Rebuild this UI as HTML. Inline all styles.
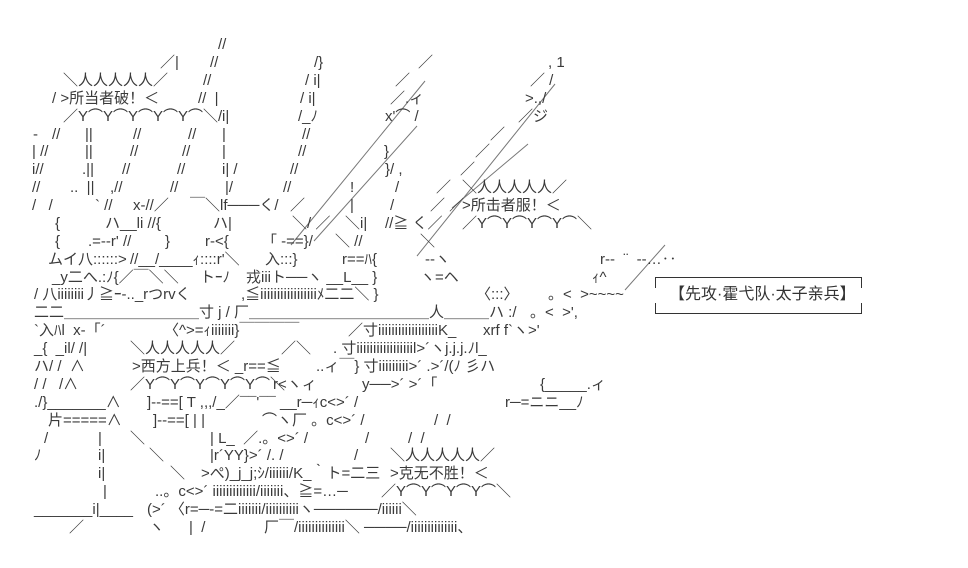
<!DOCTYPE html>
<html><head><meta charset="utf-8">
<style>
html,body{margin:0;padding:0;background:#fff;}
#c{position:relative;width:968px;height:568px;overflow:hidden;background:#fff;
font-family:"Liberation Sans","Noto Sans CJK SC",sans-serif;font-size:15px;line-height:18px;color:#3a3a3a;}
#c span{position:absolute;white-space:pre;}
svg{position:absolute;left:0;top:0;}
.box{position:absolute;left:655px;top:277px;width:207px;height:35px;border-top:1px solid #333;border-bottom:1px solid #333;}
.box:before,.box:after{content:"";position:absolute;top:0;width:0;height:10px;border-left:1px solid #333;}
.box:before{left:0}.box:after{right:0}
.bl,.br{position:absolute;bottom:0;height:10px;border-left:1px solid #333;}
.bl{left:0}.br{right:0}
.box b{position:absolute;left:14px;top:8px;font-weight:normal;font-size:16px;color:#333;white-space:pre;}
</style></head><body><div id="c">
<svg width="968" height="568">
<g stroke="#777" stroke-width="1" fill="none">
<line x1="425" y1="81" x2="291" y2="245"/>
<line x1="417" y1="126" x2="314" y2="241"/>
<line x1="555" y1="84" x2="417" y2="256"/>
<line x1="528" y1="144" x2="452" y2="208"/>
<line x1="665" y1="245" x2="625" y2="290"/>
</g></svg>

<span style="left:218px;top:36px">//</span>

<span style="left:160px;top:54px">／|</span><span style="left:210px;top:54px">//</span><span style="left:314px;top:54px">/}</span><span style="left:418px;top:54px">／</span><span style="left:548px;top:54px">, 1</span>

<span style="left:63px;top:72px">＼人人人人人／</span><span style="left:203px;top:72px">//</span><span style="left:305px;top:72px">/ i|</span><span style="left:395px;top:72px">／</span><span style="left:530px;top:72px">／ /</span>

<span style="left:52px;top:90px">/ &gt;所当者破！＜</span><span style="left:198px;top:90px">//  |</span><span style="left:300px;top:90px">/ i|</span><span style="left:390px;top:90px">／.ィ</span><span style="left:525px;top:90px">&gt;.,/</span>

<span style="left:63px;top:108px">／Y⌒Y⌒Y⌒Y⌒Y⌒＼/</span><span style="left:222px;top:108px">i|</span><span style="left:298px;top:108px">/_ﾉ</span><span style="left:385px;top:108px">x'⌒ /</span><span style="left:518px;top:108px">／ジ</span>

<span style="left:33px;top:126px">-</span><span style="left:52px;top:126px">//</span><span style="left:85px;top:126px">||</span><span style="left:133px;top:126px">//</span><span style="left:188px;top:126px">//</span><span style="left:222px;top:126px">|</span><span style="left:302px;top:126px">//</span><span style="left:490px;top:126px">／</span>

<span style="left:32px;top:143px">| //</span><span style="left:85px;top:143px">||</span><span style="left:130px;top:143px">//</span><span style="left:182px;top:143px">//</span><span style="left:222px;top:143px">|</span><span style="left:298px;top:143px">//</span><span style="left:384px;top:143px">}</span><span style="left:475px;top:143px">／</span>

<span style="left:32px;top:161px">i//</span><span style="left:82px;top:161px">.||</span><span style="left:122px;top:161px">//</span><span style="left:177px;top:161px">//</span><span style="left:222px;top:161px">i| /</span><span style="left:290px;top:161px">//</span><span style="left:385px;top:161px">}/ ,</span><span style="left:460px;top:161px">／</span>

<span style="left:32px;top:179px">//</span><span style="left:70px;top:179px">..  ||</span><span style="left:110px;top:179px">,//</span><span style="left:170px;top:179px">//</span><span style="left:225px;top:179px">|/</span><span style="left:283px;top:179px">//</span><span style="left:350px;top:179px">!</span><span style="left:395px;top:179px">/</span><span style="left:436px;top:179px">／</span><span style="left:462px;top:179px">＼人人人人人／</span>

<span style="left:32px;top:197px">/   /</span><span style="left:95px;top:197px">` //</span><span style="left:133px;top:197px">x-//／</span><span style="left:190px;top:197px">￣＼lf───く/</span><span style="left:290px;top:197px">／</span><span style="left:350px;top:197px">|</span><span style="left:390px;top:197px">/</span><span style="left:430px;top:197px">／ ／</span><span style="left:462px;top:197px">&gt;所击者服！＜</span>

<span style="left:55px;top:215px">{</span><span style="left:105px;top:215px">ハ__li //{</span><span style="left:213px;top:215px">ハ|</span><span style="left:292px;top:215px">＼/ ／</span><span style="left:345px;top:215px">＼i|</span><span style="left:385px;top:215px">//≧ く／</span><span style="left:462px;top:215px">／Y⌒Y⌒Y⌒Y⌒＼</span>

<span style="left:55px;top:233px">{</span><span style="left:88px;top:233px">.=--r' //</span><span style="left:165px;top:233px">}</span><span style="left:205px;top:233px">r-&lt;{</span><span style="left:262px;top:233px">「 -==}/</span><span style="left:335px;top:233px">＼ //</span><span style="left:420px;top:233px">＼</span>

<span style="left:48px;top:251px">ムイ八::::::&gt;</span><span style="left:130px;top:251px">//__/____ｨ::::r'＼</span><span style="left:265px;top:251px">入:::}</span><span style="left:342px;top:251px">r==ﾊ{</span><span style="left:425px;top:251px">--ヽ</span><span style="left:600px;top:251px">r--  ¨  --…‥</span>

<span style="left:52px;top:269px">_y二へ.:ﾉ{／￣＼＼</span><span style="left:200px;top:269px">トｰﾉ</span><span style="left:246px;top:269px">戎iiiト──ヽ __L__ }</span><span style="left:420px;top:269px">ヽ=ヘ</span><span style="left:592px;top:269px">ｨ^</span>

<span style="left:34px;top:286px">/ 八iiiiiiii丿≧ｰ-.._rつrvく</span><span style="left:241px;top:286px">,≦iiiiiiiiiiiiiiiiiﾒ二二＼ }</span><span style="left:476px;top:286px">〈:::〉</span><span style="left:548px;top:286px">。&lt;  &gt;~~~~</span>

<span style="left:34px;top:304px">二二＿＿＿＿＿＿＿＿＿寸 j / 厂＿＿＿＿＿＿＿＿＿＿＿＿人＿＿＿ハ :/</span><span style="left:530px;top:304px">。&lt;  &gt;',</span>

<span style="left:34px;top:322px">`入ﾊl  x-「´</span><span style="left:164px;top:322px">〈^&gt;=ｨiiiiiii}￣￣￣￣</span><span style="left:348px;top:322px">／寸iiiiiiiiiiiiiiiiiiK_</span><span style="left:483px;top:322px">xrf f`ヽ&gt;'</span>

<span style="left:34px;top:340px">_{  _il/ /|</span><span style="left:130px;top:340px">＼人人人人人／</span><span style="left:281px;top:340px">／＼</span><span style="left:333px;top:340px">. 寸iiiiiiiiiiiiiiiiil&gt;´ヽj.j.j.ﾉl_</span>

<span style="left:34px;top:358px">ハ/ /  ∧</span><span style="left:132px;top:358px">&gt;西方上兵！＜ _r==≦</span><span style="left:316px;top:358px">..ィ￣} 寸iiiiiiiii&gt;´ .&gt;´/(ﾉ 彡ハ</span>

<span style="left:34px;top:376px">/ /   /∧</span><span style="left:130px;top:376px">／Y⌒Y⌒Y⌒Y⌒Y⌒＼</span><span style="left:273px;top:376px">r&lt;ヽィ</span><span style="left:362px;top:376px">y──&gt;´ &gt;´「</span><span style="left:540px;top:376px">{_____.ィ</span>

<span style="left:34px;top:394px">./}_______∧</span><span style="left:147px;top:394px">]--==[ T ,,,/_／¯¯'¯¯ __r─ｨc&lt;&gt;´ /</span><span style="left:505px;top:394px">r─=ニニ__ﾉ</span>

<span style="left:48px;top:412px">片=====∧</span><span style="left:153px;top:412px">]--==[ | |</span><span style="left:262px;top:412px">⌒ヽ厂 。c&lt;&gt;´ /</span><span style="left:434px;top:412px">/  /</span>

<span style="left:44px;top:430px">/</span><span style="left:98px;top:430px">|</span><span style="left:130px;top:430px">＼</span><span style="left:210px;top:430px">| L_  ／.。&lt;&gt;´ /</span><span style="left:365px;top:430px">/</span><span style="left:408px;top:430px">/  /</span>

<span style="left:34px;top:447px">ﾉ</span><span style="left:98px;top:447px">i|</span><span style="left:149px;top:447px">＼</span><span style="left:210px;top:447px">|r´YY}&gt;´ /. /</span><span style="left:354px;top:447px">/</span><span style="left:390px;top:447px">＼人人人人人／</span>

<span style="left:98px;top:465px">i|</span><span style="left:170px;top:465px">＼</span><span style="left:201px;top:465px">&gt;ぺ)_j_j;ｼ/iiiiii/K_｀ト=二三</span><span style="left:390px;top:465px">&gt;克无不胜！＜</span>

<span style="left:103px;top:483px">|</span><span style="left:155px;top:483px">..。c&lt;&gt;´ iiiiiiiiiiiii/iiiiiii、≧=…─</span><span style="left:381px;top:483px">／Y⌒Y⌒Y⌒Y⌒＼</span>

<span style="left:34px;top:501px">_______i|____</span><span style="left:147px;top:501px">(&gt;´ 〈r=─-=二iiiiiii/iiiiiiiiiiヽ──────/iiiiii＼</span>

<span style="left:69px;top:519px">／</span><span style="left:149px;top:519px">ヽ</span><span style="left:189px;top:519px">|  /</span><span style="left:264px;top:519px">厂￣/iiiiiiiiiiiiii＼ ────/iiiiiiiiiiiiii、</span>

<div class="box"><div class="bl"></div><div class="br"></div><b>【先攻·霍弋队·太子亲兵】</b></div>
</div></body></html>
